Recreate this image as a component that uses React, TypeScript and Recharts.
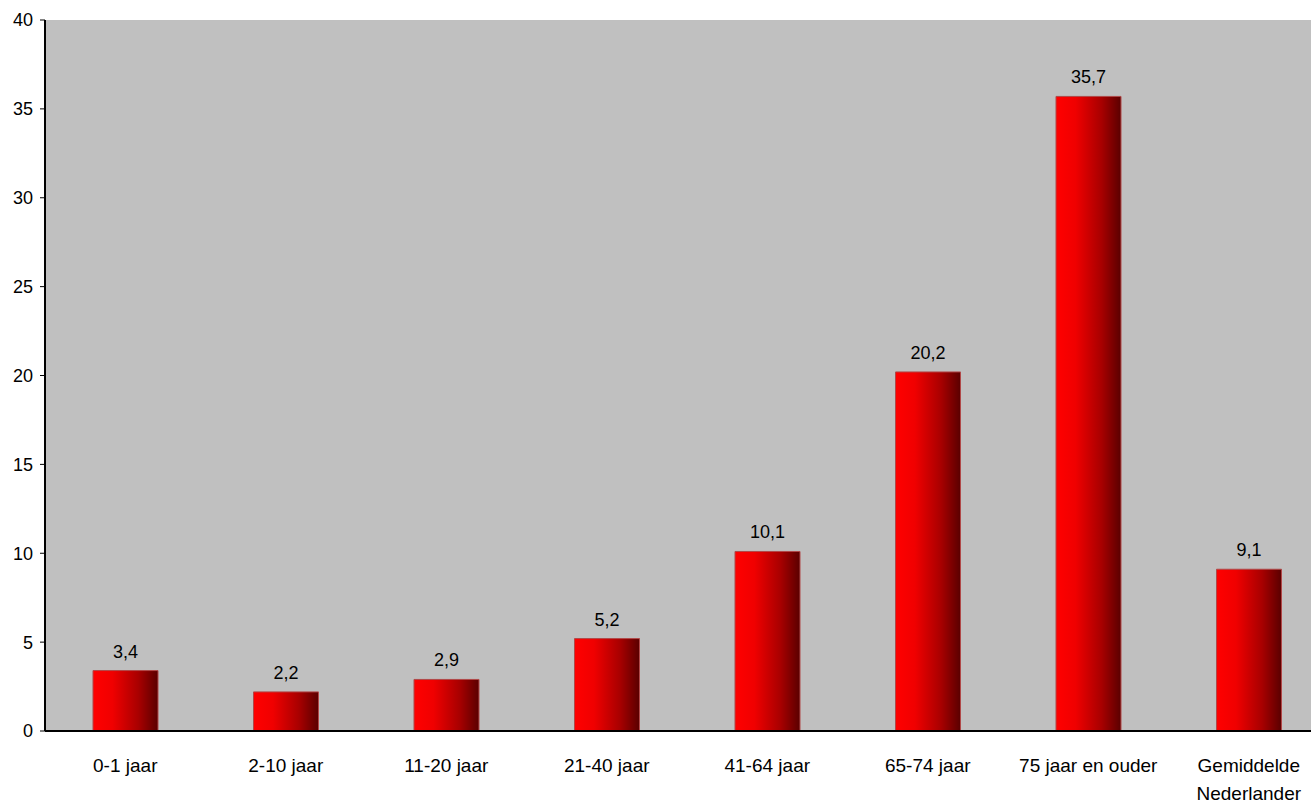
import React from "react";
import { BarChart, Bar, XAxis, YAxis, CartesianGrid, LabelList } from "recharts";

// Age groups (last category wraps onto two lines)
const categories = [
  "0-1 jaar",
  "2-10 jaar",
  "11-20 jaar",
  "21-40 jaar",
  "41-64 jaar",
  "65-74 jaar",
  "75 jaar en ouder",
  "Gemiddelde\nNederlander",
];
const values = [3.4, 2.2, 2.9, 5.2, 10.1, 20.2, 35.7, 9.1];
const yTicks = [0, 5, 10, 15, 20, 25, 30, 35, 40];

const data = categories.map((name, i) => ({ name, value: values[i] }));

const FONT = "'Liberation Sans', Arial, sans-serif";

const CategoryTick = (props: any) => {
  const { x, y, payload } = props;
  const lines = String(payload.value).split("\n");
  return (
    <g transform={`translate(${x},${y})`}>
      {lines.map((line: string, i: number) => (
        <text
          key={i}
          x={0}
          y={33 + i * 28}
          textAnchor="middle"
          fontFamily={FONT}
          fontSize={19}
          fill="#000"
        >
          {line}
        </text>
      ))}
    </g>
  );
};

const formatComma = (v: any) => String(v).replace(".", ",");

export default function App() {
  return (
    <div
      style={{
        position: "absolute",
        left: 0,
        top: 0,
        width: 1311,
        height: 805,
        overflow: "hidden",
        background: "#fff",
      }}
    >
      <BarChart
        width={1329}
        height={805}
        data={data}
        margin={{ top: 20, right: 0, bottom: 0, left: 0 }}
      >
        <defs>
          <linearGradient id="barShade" x1="0" y1="0" x2="1" y2="0">
            <stop offset="0%" stopColor="#ff0000" />
            <stop offset="30%" stopColor="#f00000" />
            <stop offset="70%" stopColor="#a80000" />
            <stop offset="100%" stopColor="#5a0000" />
          </linearGradient>
        </defs>
        <rect x={45} y={20} width={1284} height={711} fill="#c0c0c0" />
        <CartesianGrid vertical={false} stroke="#ffffff" strokeWidth={2} />
        <XAxis
          dataKey="name"
          interval={0}
          height={74}
          tickLine={false}
          axisLine={{ stroke: "#000", strokeWidth: 2 }}
          tick={<CategoryTick />}
        />
        <YAxis
          width={45}
          domain={[0, 40]}
          ticks={yTicks}
          interval={0}
          tickSize={5}
          tickLine={{ stroke: "#000" }}
          axisLine={{ stroke: "#000", strokeWidth: 2 }}
          tick={{ fontFamily: FONT, fontSize: 18, fill: "#000" }}
          tickMargin={7}
        />
        <Bar
          dataKey="value"
          barSize={65}
          fill="url(#barShade)"
          stroke="#b04848"
          strokeWidth={1}
          isAnimationActive={false}
        >
          <LabelList
            dataKey="value"
            position="top"
            offset={13}
            formatter={formatComma}
            style={{ fontFamily: FONT, fontSize: 18, fill: "#000" }}
          />
        </Bar>
      </BarChart>
    </div>
  );
}
